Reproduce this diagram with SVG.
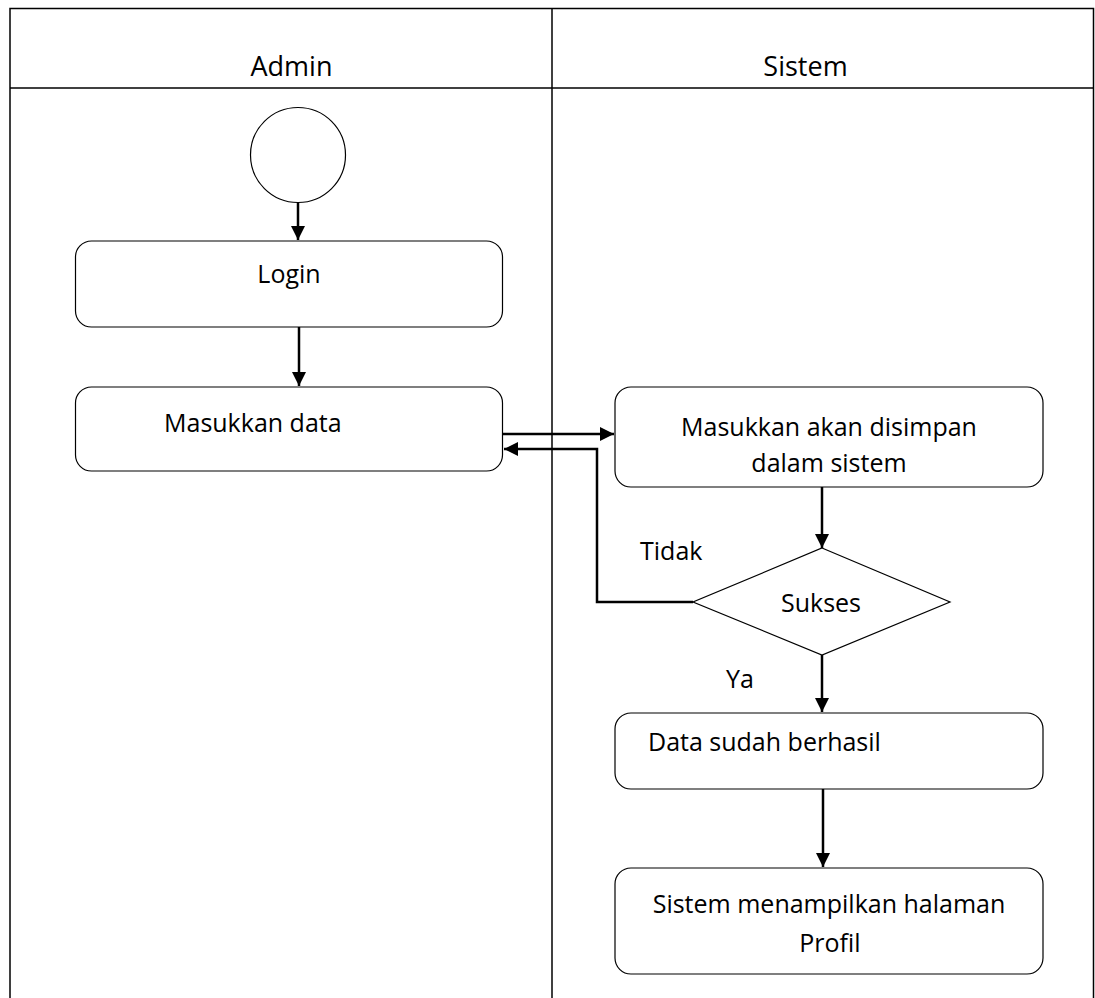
<svg xmlns="http://www.w3.org/2000/svg" width="1095" height="998" viewBox="0 0 1095 998">
<style>
  text { font-family: "Open Sans", "Noto Sans", sans-serif; font-size: 25px; fill: #000; }
  .hdr { font-size: 27px; }
  .lane { fill: none; stroke: #000; stroke-width: 1.5; }
  .box { fill: #fff; stroke: #000; stroke-width: 1.2; }
  .conn { fill: none; stroke: #000; stroke-width: 2.5; }
  .mid { text-anchor: middle; }
</style>
<defs>
  <marker id="arrow" markerUnits="userSpaceOnUse" markerWidth="16" markerHeight="16" viewBox="0 0 16 16" refX="15" refY="8" orient="auto">
    <path d="M1,1 L15,8 L1,15 Z" fill="#000"/>
  </marker>
</defs>
<rect width="1095" height="998" fill="#fff"/>
<g id="swimlanes">
  <path class="lane" d="M10,998 V8.5 H1093.5 V998"/>
  <line class="lane" x1="10" y1="88" x2="1093.5" y2="88"/>
  <line class="lane" x1="552" y1="8.5" x2="552" y2="998"/>
  <text class="mid hdr" x="291.5" y="76">Admin</text>
  <text class="mid hdr" x="805.5" y="76">Sistem</text>
</g>
<g id="connectors">
  <line class="conn" x1="298" y1="203" x2="298" y2="240" marker-end="url(#arrow)"/>
  <line class="conn" x1="299" y1="327" x2="299" y2="386" marker-end="url(#arrow)"/>
  <line class="conn" x1="503" y1="434" x2="614" y2="434" marker-end="url(#arrow)"/>
  <polyline class="conn" points="693,602 597,602 597,449 504,449" marker-end="url(#arrow)"/>
  <line class="conn" x1="822" y1="487" x2="822" y2="548" marker-end="url(#arrow)"/>
  <line class="conn" x1="822" y1="655" x2="822" y2="712" marker-end="url(#arrow)"/>
  <line class="conn" x1="823" y1="789" x2="823" y2="867" marker-end="url(#arrow)"/>
  <text x="640" y="560">Tidak</text>
  <text x="726" y="688">Ya</text>
</g>
<g id="start">
  <circle class="box" cx="298" cy="155" r="47.5"/>
</g>
<g id="login">
  <rect class="box" x="75.5" y="241" width="427" height="86" rx="16"/>
  <text class="mid" x="289" y="283">Login</text>
</g>
<g id="masukkan-data">
  <rect class="box" x="75.5" y="387" width="427" height="84" rx="16"/>
  <text x="164" y="432">Masukkan data</text>
</g>
<g id="disimpan">
  <rect class="box" x="615" y="387" width="428" height="100" rx="16"/>
  <text class="mid" x="829" y="436">Masukkan akan disimpan</text>
  <text class="mid" x="829" y="472">dalam sistem</text>
</g>
<g id="sukses">
  <polygon class="box" points="822,548 950,602 822,655 693,602"/>
  <text class="mid" x="821" y="612">Sukses</text>
</g>
<g id="berhasil">
  <rect class="box" x="615" y="713" width="428" height="76" rx="16"/>
  <text x="648" y="751">Data sudah berhasil</text>
</g>
<g id="profil">
  <rect class="box" x="615" y="868" width="428" height="106" rx="16"/>
  <text class="mid" x="829" y="913">Sistem menampilkan halaman</text>
  <text class="mid" x="830" y="952">Profil</text>
</g>
</svg>
